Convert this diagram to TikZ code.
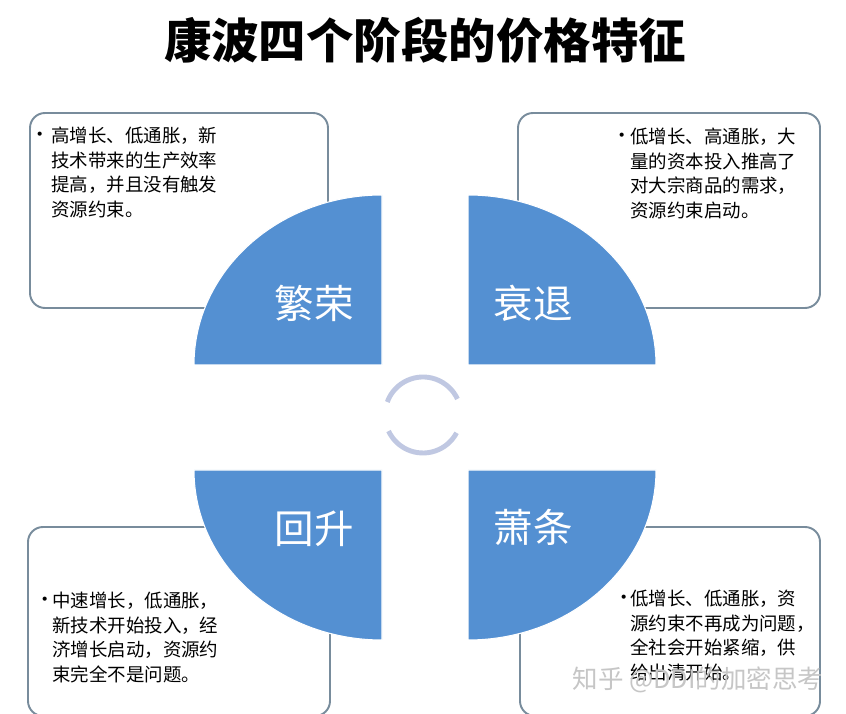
\documentclass[tikz,border=0pt]{standalone}
\usepackage{fontspec}
\newfontfamily\cjk{Noto Sans CJK SC}
\usepackage{tikz}
\usetikzlibrary{positioning}
\definecolor{quadblue}{RGB}{84,144,210}
\definecolor{boxgray}{RGB}{120,140,156}
\definecolor{ringgray}{RGB}{192,200,226}

\begin{document}
\begin{tikzpicture}[x=0.02cm, y=0.02cm, font=\cjk,
  stagebox/.style={draw=boxgray, line width=1.1pt, rounded corners=0.3cm, fill=white},
  quad/.style={fill=quadblue, draw=white, line width=0.6pt},
  stagename/.style={text=white, inner sep=0pt, font=\cjk\fontsize{22.5}{26}\selectfont},
  bulletmark/.style={inner sep=0pt, font=\cjk\fontsize{11}{12}\selectfont},
  desc/.style={anchor=north west, align=left, inner sep=0pt, font=\cjk\fontsize{10.5}{13.9}\selectfont},
  ring/.style={draw=ringgray, line width=2.8pt}]
  \clip (0,0) rectangle (846,714);
  \fill[white] (0,0) rectangle (846,714);
  \node[font=\cjk\bfseries\fontsize{27}{30}\selectfont] (title) at (425,674) {康波四个阶段的价格特征};

  \draw[stagebox] (30,406) rectangle (328,601);
  \draw[stagebox] (518,406) rectangle (820,601);
  \draw[stagebox] (28,-2) rectangle (330,187);
  \draw[stagebox] (520,-2) rectangle (820,187);

  \fill[quad] (382,349) -- ++(0,170) arc[start angle=90, end angle=180, x radius=188, y radius=170] -- cycle;
  \fill[quad] (468,349) -- ++(188,0) arc[start angle=0, end angle=90, x radius=188, y radius=170] -- cycle;
  \fill[quad] (382,244) -- ++(-188,0) arc[start angle=180, end angle=270, x radius=188, y radius=170] -- cycle;
  \fill[quad] (468,244) -- ++(0,-170) arc[start angle=270, end angle=360, x radius=188, y radius=170] -- cycle;

  \node[stagename] (boom) at (314,411) {繁荣};
  \node[stagename] (recession) at (533,411) {衰退};
  \node[stagename] (recovery) at (314,185) {回升};
  \node[stagename] (depression) at (533,187) {萧条};

  \draw[ring] (423,299) ++(160:38) arc[start angle=160, end angle=25, radius=38];
  \draw[ring] (423,299) ++(205:38) arc[start angle=205, end angle=332, radius=38];

  \node[bulletmark] (dotboom) at (40,577) {•};
  \node[desc] (txtboom) at (51,587) {高增长、低通胀，新\\技术带来的生产效率\\提高，并且没有触发\\资源约束。};
  \node[bulletmark] (dotrec) at (622,576) {•};
  \node[desc] (txtrec) at (630,586) {低增长、高通胀，大\\量的资本投入推高了\\对大宗商品的需求，\\资源约束启动。};
  \node[bulletmark] (dotrecov) at (45,112) {•};
  \node[desc] (txtrecov) at (52,122) {中速增长，低通胀，\\新技术开始投入，经\\济增长启动，资源约\\束完全不是问题。};
  \node[bulletmark] (dotdep) at (624,114) {•};
  \node[desc] (txtdep) at (630,124) {低增长、低通胀，资\\源约束不再成为问题，\\全社会开始紧缩，供\\给出清开始。};

  \node[text=gray!45, font=\cjk\fontsize{14.5}{16}\selectfont] (mark) at (698,34) {知乎 @DDI的加密思考};
\end{tikzpicture}
\end{document}
